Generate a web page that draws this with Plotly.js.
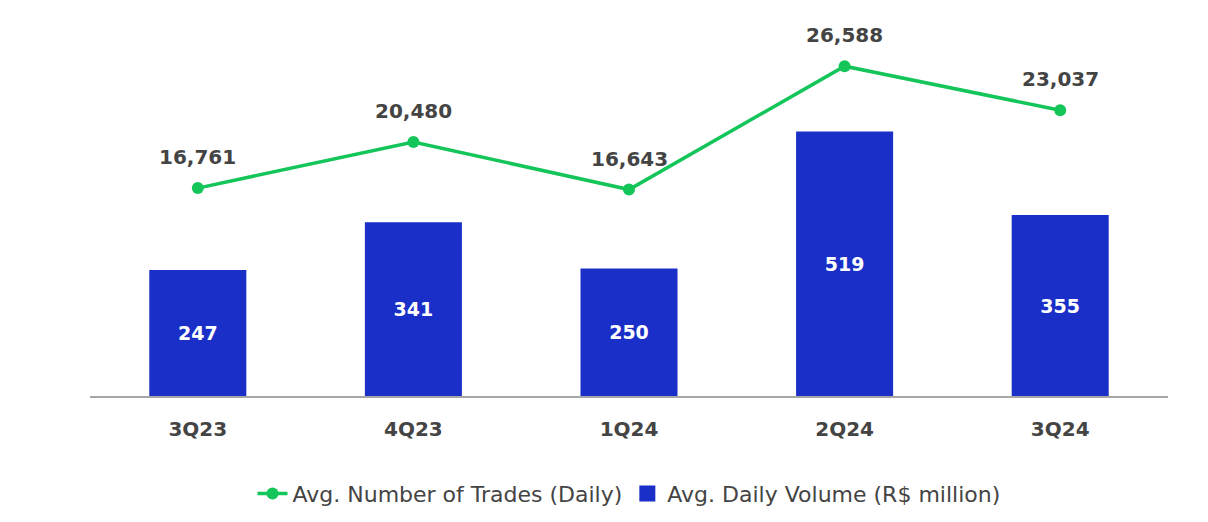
<!DOCTYPE html>
<html>
<head>
<meta charset="utf-8">
<script src="https://cdn.plot.ly/plotly-3.0.1.min.js"></script>
<style>
  html, body { margin: 0; padding: 0; background: #fff; }
  #plot { width: 1208px; height: 522px; }
</style>
</head>
<body>
<div id="plot"></div>
<script>
const quarters = ["3Q23", "4Q23", "1Q24", "2Q24", "3Q24"]
const dailyVolume = [247, 341, 250, 519, 355]
const dailyTrades = [16761, 20480, 16643, 26588, 23037]

const BLUE = "#1a2fc8"
const GREEN = "#14c55a"
const GREY_TEXT = "#444444"
const FONT = "DejaVu Sans, Open Sans, sans-serif"

const bars = {
  type: "bar",
  name: "Avg. Daily Volume (R$ million)",
  showlegend: false,
  x: quarters,
  y: dailyVolume,
  width: 0.45,
  marker: { color: BLUE },
  text: dailyVolume.map(v => "<b>" + v + "</b>"),
  textposition: "inside",
  insidetextanchor: "middle",
  textfont: { family: FONT, size: 19, color: "#ffffff" },
  hoverinfo: "skip"
}

// legend entry for the bars with a bigger square swatch
const barsLegend = {
  type: "scatter",
  mode: "markers",
  name: "Avg. Daily Volume (R$ million)",
  x: [null],
  y: [null],
  marker: { color: BLUE, symbol: "square", size: 21 },
  hoverinfo: "skip"
}

const line = {
  type: "scatter",
  mode: "lines+markers",
  name: "Avg. Number of Trades (Daily)",
  x: quarters,
  y: dailyTrades,
  yaxis: "y2",
  line: { color: GREEN, width: 3.5 },
  marker: { color: GREEN, size: 12 },
  hoverinfo: "skip"
}

// labels above the line points
const annotations = quarters.map((q, i) => ({
  x: q,
  y: dailyTrades[i],
  xref: "x",
  yref: "y2",
  text: "<b>" + dailyTrades[i].toLocaleString("en-US") + "</b>",
  showarrow: false,
  yshift: 31,
  font: { family: FONT, size: 20, color: GREY_TEXT }
}))

const layout = {
  width: 1208,
  height: 522,
  margin: { l: 90, r: 40, t: 22, b: 126, pad: 0, autoexpand: false },
  paper_bgcolor: "#ffffff",
  plot_bgcolor: "#ffffff",
  showlegend: true,
  xaxis: {
    type: "category",
    showgrid: false,
    showline: true,
    linecolor: "#a6a6a6",
    linewidth: 2,
    ticks: "",
    ticklabelstandoff: 14,
    tickfont: { family: FONT, size: 20, color: GREY_TEXT, weight: "bold" },
    fixedrange: true
  },
  yaxis: {
    range: [0, 733.7],
    visible: false,
    showgrid: false,
    zeroline: false,
    fixedrange: true
  },
  yaxis2: {
    range: [0, 30152],
    overlaying: "y",
    side: "right",
    visible: false,
    showgrid: false,
    zeroline: false,
    fixedrange: true
  },
  legend: {
    orientation: "h",
    x: 0.5,
    xanchor: "center",
    yref: "container",
    y: 0.054,
    yanchor: "middle",
    traceorder: "normal",
    itemwidth: 30,
    itemsizing: "trace",
    font: { family: FONT, size: 22, color: GREY_TEXT }
  },
  annotations: annotations
}

Plotly.newPlot("plot", [line, bars, barsLegend], layout, { displayModeBar: false, staticPlot: true })
</script>
</body>
</html>
